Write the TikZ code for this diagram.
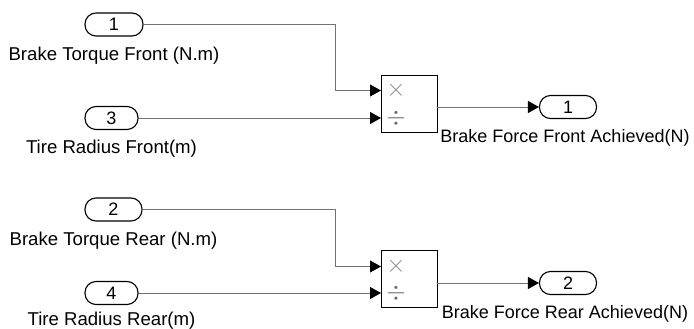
\documentclass[tikz,border=0pt]{standalone}
\usepackage{fontspec}
\setmainfont{Liberation Sans}
\usetikzlibrary{arrows.meta, positioning}

\begin{document}
\begin{tikzpicture}[x=1pt, y=-1pt,
  port/.style={draw, line width=1.1pt, rounded corners=11pt, minimum height=23pt, inner sep=0pt, font=\fontsize{18}{18}\selectfont},
  portname/.style={inner sep=0pt, font=\fontsize{18.6}{19}\selectfont},
  outname/.style={portname, font=\fontsize{18}{19}\selectfont, xshift=-3pt},
  prodblock/.style={draw, line width=0.9pt, minimum width=56pt, minimum height=57pt, inner sep=0pt},
  opsign/.style={text=black!45, font=\fontsize{26}{26}\selectfont},
  wire/.style={draw=black!55, line width=0.8pt},
  sig/.style={wire, -{Triangle[length=11pt, width=12pt, black]}},
  node distance=10pt]
\useasboundingbox (0,0) rectangle (694,329);

% front
\node[port, minimum width=58pt] (in1) at (114,24.5) {1};
\node[portname, below=of in1] (in1name) {Brake Torque Front (N.m)};
\node[port, minimum width=53pt] (in3) at (111.5,118) {3};
\node[portname, below=of in3] (in3name) {Tire Radius Front(m)};
\node[prodblock] (prodF) at (409,103.5) {};
\coordinate (prodF mul) at (381,90.5);
\coordinate (prodF div) at (381,118);
\node[opsign] (mulF) at (396,90.5) {$\times$};
\node[opsign, text=black!60] (divF) at (396,118) {$\div$};
\node[port, minimum width=57pt] (out1) at (568,107) {1};
\node[outname, below=of out1] (out1name) {Brake Force Front Achieved(N)};

\draw[sig] (in1.east) -- (335,24.5) |- (prodF mul);
\draw[sig] (in3.east) -- (prodF div);
\draw[sig] (prodF.east |- out1) -- (out1.west);

% rear
\node[port, minimum width=57pt] (in2) at (113.5,209.5) {2};
\node[portname, below=of in2] (in2name) {Brake Torque Rear (N.m)};
\node[port, minimum width=53pt] (in4) at (111.5,293) {4};
\node[portname, below=7pt of in4] (in4name) {Tire Radius Rear(m)};
\node[prodblock] (prodR) at (409,279) {};
\coordinate (prodR mul) at (381,266.5);
\coordinate (prodR div) at (381,293);
\node[opsign] (mulR) at (396,266.5) {$\times$};
\node[opsign, text=black!60] (divR) at (396,293) {$\div$};
\node[port, minimum width=57pt] (out2) at (568,283) {2};
\node[outname, below=of out2] (out2name) {Brake Force Rear Achieved(N)};

\draw[sig] (in2.east) -- (335,209.5) |- (prodR mul);
\draw[sig] (in4.east) -- (prodR div);
\draw[sig] (prodR.east |- out2) -- (out2.west);
\end{tikzpicture}
\end{document}
